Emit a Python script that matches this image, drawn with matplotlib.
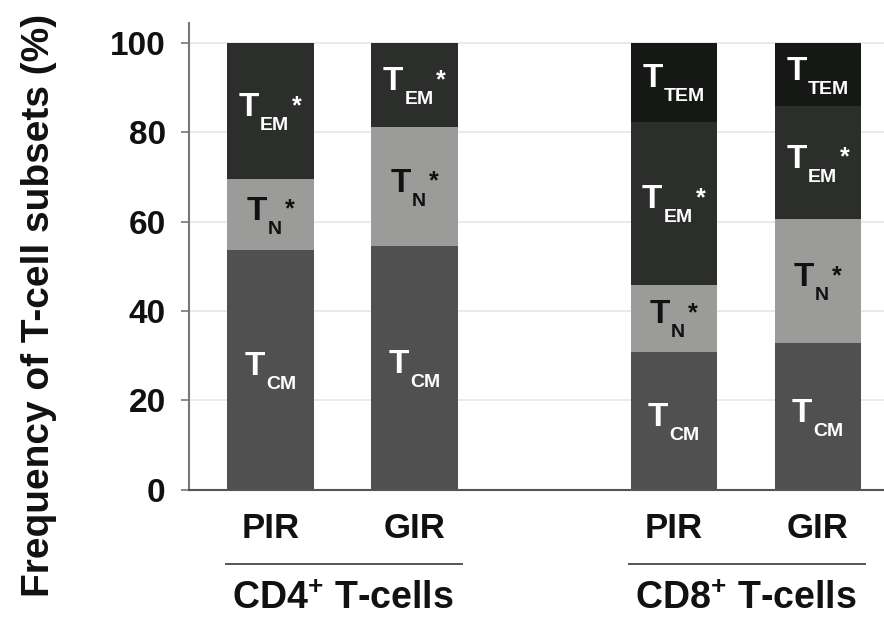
import numpy as np
import matplotlib.pyplot as plt
from matplotlib.transforms import blended_transform_factory, offset_copy

plt.rcParams['font.family'] = ['Liberation Sans', 'DejaVu Sans']
plt.rcParams['font.weight'] = 'bold'
plt.rcParams['mathtext.fontset'] = 'custom'
plt.rcParams['mathtext.rm'] = 'Liberation Sans:bold'
plt.rcParams['mathtext.bf'] = 'Liberation Sans:bold'

# data (% of T-cells)
bar_labels = ['PIR', 'GIR', 'PIR', 'GIR']
group_labels = ['CD4$^{+}$ T-cells', 'CD8$^{+}$ T-cells']
t_cm = [53.7, 54.6, 30.9, 32.8]
t_n = [15.8, 26.5, 15.0, 27.8]
t_em = [30.5, 18.9, 36.5, 25.2]
t_tem = [0.0, 0.0, 17.6, 14.2]

# subsets from bottom to top: values, subscript, star, fill, text colour
subsets = [
    (t_cm, 'CM', False, '#505050', 'white'),
    (t_n, 'N', True, '#9b9c9a', '#111111'),
    (t_em, 'EM', True, '#2c2e2c', 'white'),
    (t_tem, 'TEM', False, '#161816', 'white'),
]

x = np.array([0, 1, 2.8, 3.8])
width = 0.6

fig = plt.figure(figsize=(8.84, 6.2), dpi=100)
ax = fig.add_axes([0.2141, 0.21, 1 - 0.2141, 0.963 - 0.21])

bottom = np.zeros(len(x))
label_groups = []
for vals, sub, star, fill, tcol in subsets:
    vals = np.array(vals)
    ax.bar(x, vals, width, bottom=bottom, color=fill, edgecolor='none', zorder=2)
    for xi, b, v in zip(x, bottom, vals):
        if v <= 0:
            continue
        mid = b + v / 2
        # (text, size, vertical offset in px)
        parts = [('T', 24, -5), (sub, 14, -19)]
        if star:
            parts.append(('*', 18, -2))
        texts = []
        for s, fs, dy in parts:
            t = ax.text(xi, mid, s, fontsize=fs, color=tcol, ha='left', va='baseline', zorder=3)
            texts.append((t, dy))
        label_groups.append(texts)
    bottom += vals

ax.set_xlim(-0.564, 4.26)
ax.set_ylim(0, 104.5)
ax.set_yticks(range(0, 101, 20))
ax.set_xticks(x, bar_labels)
ax.tick_params(axis='y', length=6, width=1.2, color='#777777', pad=11, labelsize=24, labelcolor='#111111')
ax.tick_params(axis='x', length=0, pad=16, labelsize=25, labelcolor='#111111')
ax.set_axisbelow(True)
ax.yaxis.grid(True, color='#e6e6e6', lw=1.2)
for s in ['top', 'right']:
    ax.spines[s].set_visible(False)
ax.spines['left'].set_color('#777777')
ax.spines['left'].set_linewidth(1.5)
ax.spines['bottom'].set_color('#555555')
ax.spines['bottom'].set_linewidth(1.5)

ax.set_ylabel('Frequency of T-cell subsets (%)', fontsize=28, fontweight='bold', color='#111111')
ax.yaxis.set_label_coords(-0.19, 0.394)

# group brackets and labels under the tick labels
trans = blended_transform_factory(ax.transData, ax.transAxes)
for g, lbl in enumerate(group_labels):
    x0 = x[2 * g] - width / 2 - 0.01
    x1 = x[2 * g + 1] + width / 2 + 0.03
    ax.plot([x0, x1], [-0.159, -0.159], transform=trans, clip_on=False, color='#555555', lw=1.4)
    ax.text((x[2 * g] + x[2 * g + 1]) / 2, -0.233, lbl, transform=trans, ha='center', va='center',
            fontsize=27, color='#111111')

# centre the composite T-subset labels on their bars
fig.canvas.draw()
renderer = fig.canvas.get_renderer()
gaps = [0, 1, 3]
for texts in label_groups:
    widths = [t.get_window_extent(renderer).width for t, _ in texts]
    total = sum(widths) + sum(gaps[:len(texts)])
    cur = -total / 2
    for i, (t, dy) in enumerate(texts):
        cur += gaps[i]
        t.set_transform(offset_copy(ax.transData, fig=fig, x=cur, y=dy, units='dots'))
        cur += widths[i]

fig.savefig('out.png', dpi=100)
